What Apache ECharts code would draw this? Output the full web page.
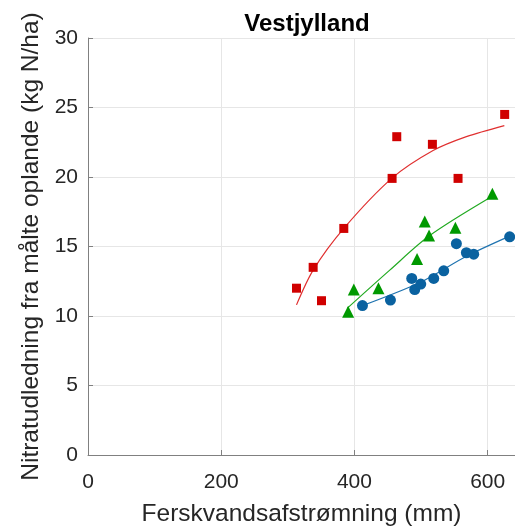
<!DOCTYPE html>
<html>
<head>
<meta charset="utf-8">
<script src="https://cdn.jsdelivr.net/npm/echarts@6/dist/echarts.min.js"></script>
<style>
  html, body { margin: 0; padding: 0; background: #fff; }
  #chart { width: 515px; height: 526px; }
</style>
</head>
<body>
<div id="chart"></div>
<script>
// measured points (runoff mm, nitrate kg N/ha)
const redPts = [[313, 12.0], [338, 13.5], [350.5, 11.1], [384, 16.3], [456.5, 19.9],
  [463.5, 22.9], [517, 22.35], [555.5, 19.9], [625.5, 24.5]];
const greenPts = [[390.5, 10.3], [399, 11.9], [436, 12.0], [494, 14.1], [505.5, 16.8],
  [512, 15.8], [551.5, 16.35], [607, 18.8]];
const bluePts = [[412, 10.75], [454, 11.15], [486, 12.7], [490.5, 11.9], [499.5, 12.3],
  [519, 12.7], [534, 13.25], [553, 15.2], [568, 14.55], [579, 14.45], [633, 15.7]];

// trend lines
const redFit = [[313, 10.8], [338, 13.3], [384, 16.3], [456, 19.9], [518, 21.9], [568, 22.9], [625, 23.7]];
const greenFit = [[389, 10.55], [453, 13.3], [512, 15.75], [603, 18.5]];
const blueFit = [[412, 10.75], [500, 12.45], [568, 14.3], [633, 15.75]];

const xTicks = [0, 200, 400, 600];
const yTicks = [0, 5, 10, 15, 20, 25, 30];

const red = '#d00000', green = '#009900', blue = '#0a62a0';
const font = 'Liberation Sans, Arial, sans-serif';

const chart = echarts.init(document.getElementById('chart'));
chart.setOption({
  animation: false,
  title: {
    text: 'Vestjylland',
    left: 302, top: 7, textAlign: 'center',
    textStyle: { fontFamily: font, fontSize: 24, fontWeight: 'bold', color: '#000' }
  },
  grid: { left: 88, right: 0, top: 38, bottom: 71, outerBoundsMode: 'none' },
  xAxis: {
    type: 'value', min: 0, max: 641, interval: 200,
    name: 'Ferskvandsafstrømning (mm)', nameLocation: 'middle', nameGap: 47,
    nameTextStyle: { fontFamily: font, fontSize: 24.5, color: '#262626' },
    axisLine: { show: true, lineStyle: { color: '#808080', width: 1 } },
    axisTick: { show: true, inside: true, length: 5, lineStyle: { color: '#808080' } },
    axisLabel: { fontFamily: font, fontSize: 21, color: '#262626', margin: 17,
      formatter: v => xTicks.includes(v) ? String(v) : '' },
    splitLine: { show: true, showMaxLine: false, lineStyle: { color: '#e6e6e6', width: 1 } }
  },
  yAxis: {
    type: 'value', min: 0, max: 30, interval: 5,
    name: 'Nitratudledning fra målte oplande (kg N/ha)', nameLocation: 'middle', nameGap: 42,
    nameTextStyle: { fontFamily: font, fontSize: 24.5, color: '#262626' },
    axisLine: { show: true, lineStyle: { color: '#808080', width: 1 } },
    axisTick: { show: true, inside: true, length: 5, lineStyle: { color: '#808080' } },
    axisLabel: { fontFamily: font, fontSize: 21, color: '#262626', margin: 10,
      formatter: v => yTicks.includes(v) ? String(v) : '' },
    splitLine: { show: true, lineStyle: { color: '#e6e6e6', width: 1 } }
  },
  series: [
    { type: 'line', data: redFit, smooth: 0.3, symbol: 'none',
      lineStyle: { color: '#e03030', width: 1.2 }, z: 2 },
    { type: 'line', data: greenFit, smooth: 0.3, symbol: 'none',
      lineStyle: { color: '#22aa22', width: 1.2 }, z: 2 },
    { type: 'line', data: blueFit, smooth: 0.3, symbol: 'none',
      lineStyle: { color: '#2074b0', width: 1.2 }, z: 2 },
    { type: 'scatter', data: redPts, symbol: 'rect', symbolSize: 9,
      itemStyle: { color: red, opacity: 1 }, z: 3 },
    { type: 'scatter', data: greenPts, symbol: 'triangle', symbolSize: 12,
      itemStyle: { color: green, opacity: 1 }, z: 3 },
    { type: 'scatter', data: bluePts, symbol: 'circle', symbolSize: 11,
      itemStyle: { color: blue, opacity: 1 }, z: 3 }
  ]
});
</script>
</body>
</html>
